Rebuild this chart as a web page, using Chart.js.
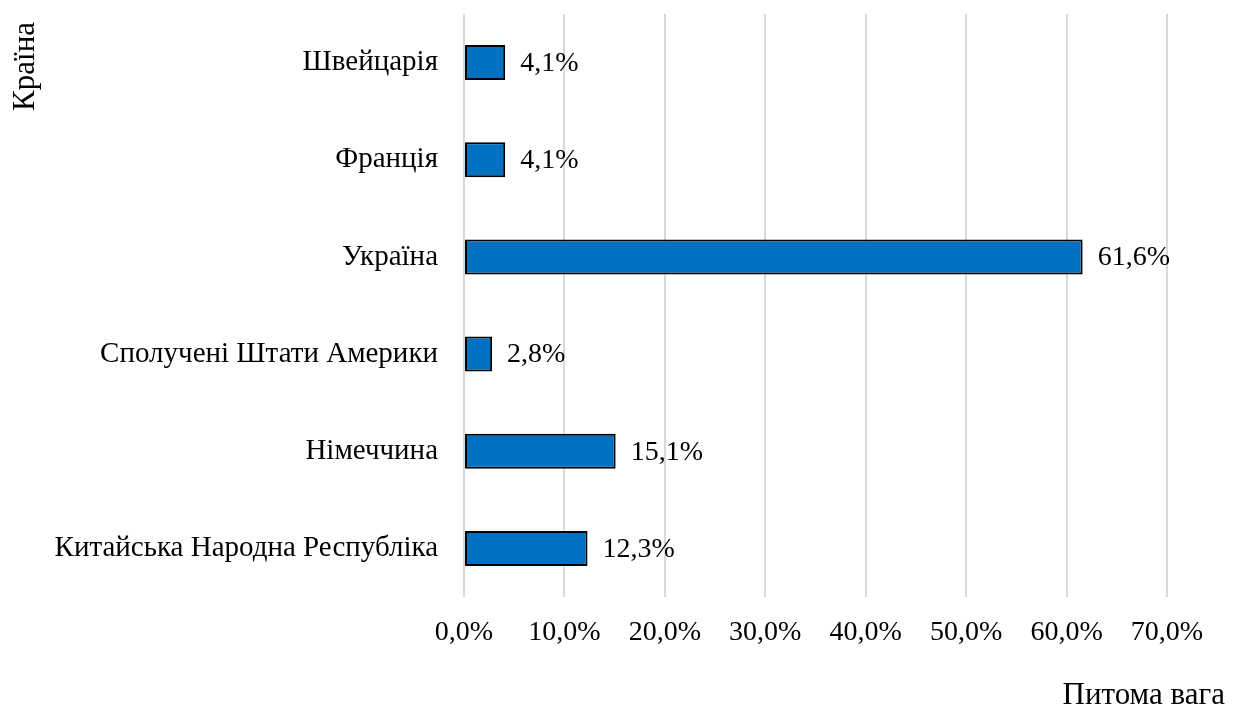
<!DOCTYPE html>
<html>
<head>
<meta charset="utf-8">
<script src="https://cdn.jsdelivr.net/npm/chart.js"></script>
<style>
	html, body { margin: 0; padding: 0; background: #fff; }
	#wrap { width: 1241px; height: 711px; }
</style>
</head>
<body>
<div id="wrap"><canvas id="myChart" width="1241" height="711"></canvas></div>
<script>
// country names, top to bottom
const countries = [
	"Швейцарія",
	"Франція",
	"Україна",
	"Сполучені Штати Америки",
	"Німеччина",
	"Китайська Народна Республіка"
];
// share, %
const shares = [4.1, 4.1, 61.6, 2.8, 15.1, 12.3];
const xTitle = "Питома вага";
const yTitle = "Країна";

const fontFamily = "'Liberation Serif', 'Times New Roman', serif";

const pct = (v) => v.toFixed(1).replace('.', ',') + '%';

// value labels at the end of the bars
const barLabels = {
	id: 'barLabels',
	afterDatasetsDraw: function (chart) {
		const ctx = chart.ctx;
		const meta = chart.getDatasetMeta(0);
		ctx.save();
		ctx.font = "28px " + fontFamily;
		ctx.fillStyle = '#000';
		ctx.textAlign = 'left';
		ctx.textBaseline = 'middle';
		meta.data.forEach((bar, i) => {
			ctx.fillText(pct(shares[i]), bar.x + 15, bar.y + 1);
		});
		ctx.restore();
	}
};

// axis titles sit in the corners
const axisTitles = {
	id: 'axisTitles',
	afterDraw: function (chart) {
		const ctx = chart.ctx;
		ctx.save();
		ctx.font = "31px " + fontFamily;
		ctx.fillStyle = '#000';
		ctx.textAlign = 'right';
		ctx.textBaseline = 'middle';
		ctx.fillText(xTitle, 1225, 696);
		ctx.translate(26, 22);
		ctx.rotate(-Math.PI / 2);
		ctx.fillText(yTitle, 0, 0);
		ctx.restore();
	}
};

new Chart(document.getElementById('myChart'), {
	type: 'bar',
	data: {
		labels: countries,
		datasets: [{
			data: shares,
			backgroundColor: '#0070C0',
			borderColor: '#000',
			borderWidth: 2,
			borderSkipped: false,
			barPercentage: 0.36,
			categoryPercentage: 1
		}]
	},
	options: {
		indexAxis: 'y',
		responsive: false,
		animation: false,
		layout: {
			padding: { top: 14, right: 74, bottom: 0, left: 0 }
		},
		plugins: {
			legend: { display: false },
			tooltip: { enabled: false }
		},
		scales: {
			x: {
				min: 0,
				max: 70,
				ticks: {
					stepSize: 10,
					color: '#000',
					padding: 19,
					font: { family: fontFamily, size: 28 },
					callback: (v) => pct(v)
				},
				grid: {
					color: '#d9d9d9',
					lineWidth: 2,
					drawTicks: false
				},
				border: { display: false },
				afterFit: function (s) {
					s.height = 114;
					s.paddingLeft = 0;
					s.paddingRight = 0;
				}
			},
			y: {
				ticks: {
					color: '#000',
					padding: 26,
					font: { family: fontFamily, size: 29 }
				},
				grid: { display: false, drawTicks: false },
				border: { display: false },
				afterFit: function (s) {
					s.width = 464;
					s.paddingTop = 0;
					s.paddingBottom = 0;
				}
			}
		}
	},
	plugins: [barLabels, axisTitles]
});
</script>
</body>
</html>
